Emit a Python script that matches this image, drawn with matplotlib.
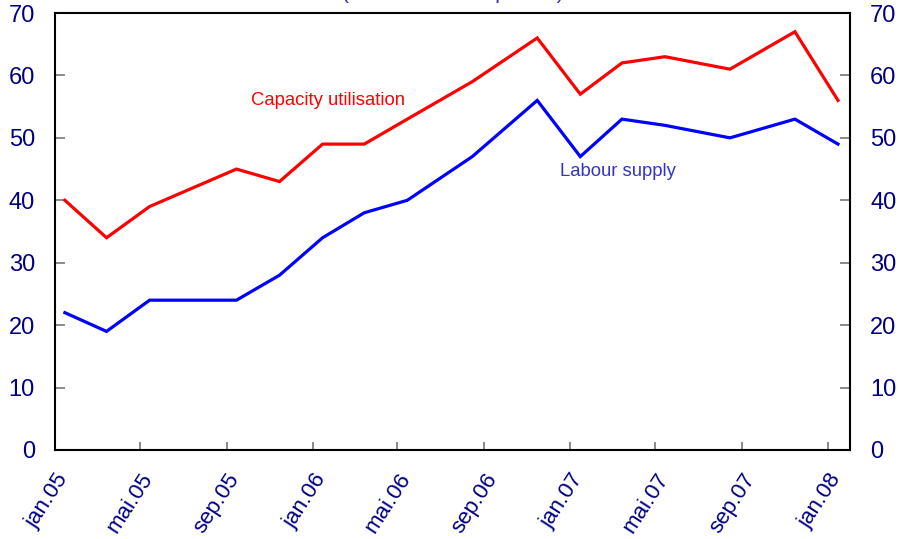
import matplotlib

matplotlib.use('Agg')
import matplotlib.pyplot as plt
import pandas as pd

plt.rcParams['font.family'] = ['Liberation Sans', 'DejaVu Sans']

# survey rounds (mid-month)
dates = ["2005-01-15", "2005-03-15", "2005-05-15", "2005-09-15", "2005-11-15",
         "2006-01-15", "2006-03-15", "2006-05-15", "2006-08-15", "2006-11-15",
         "2007-01-15", "2007-03-15", "2007-05-15", "2007-08-15", "2007-11-15",
         "2008-01-15"]
capacity = [40, 34, 39, 45, 43, 49, 49, 53, 59, 66, 57, 62, 63, 61, 67, 56]
labour = [22, 19, 24, 24, 28, 34, 38, 40, 47, 56, 47, 53, 52, 50, 53, 49]

tick_dates = ["2005-01-01", "2005-05-01", "2005-09-01", "2006-01-01", "2006-05-01",
              "2006-09-01", "2007-01-01", "2007-05-01", "2007-09-01", "2008-01-01"]
tick_labels = ["jan.05", "mai.05", "sep.05", "jan.06", "mai.06",
               "sep.06", "jan.07", "mai.07", "sep.07", "jan.08"]

x = pd.to_datetime(dates)
navy = '#000080'

fig = plt.figure(figsize=(9.01, 5.39), dpi=100)
ax = fig.add_axes([55 / 901, 1 - 450 / 539, 795 / 901, 437 / 539])

ax.plot(x, capacity, color='#ff0000', linewidth=2.3, solid_joinstyle='miter')
ax.plot(x, labour, color='#0000ff', linewidth=2.3, solid_joinstyle='miter')

ax.set_xlim(pd.Timestamp("2005-01-01"), pd.Timestamp("2008-02-01"))
ax.set_ylim(0, 70)
ax.set_yticks(range(0, 71, 10))
ax.set_xticks(pd.to_datetime(tick_dates))
ax.set_xticklabels(tick_labels, rotation=57, ha='right', va='top',
                   rotation_mode='anchor')

ax.tick_params(axis='y', direction='in', length=7, width=1.2, color='#777777',
               labelsize=17, labelcolor=navy, left=True, right=True,
               labelleft=True, labelright=True, pad=14.5)
ax.tick_params(axis='x', direction='in', length=6, width=1.2, color='#777777',
               labelsize=16, labelcolor=navy, pad=14)
for s in ax.spines.values():
    s.set_linewidth(1.5)
    s.set_color('black')

ax.text(pd.Timestamp("2006-01-22"), 56, "Capacity utilisation", color='#ff0000',
        fontsize=13.3, ha='center', va='center')
ax.text(pd.Timestamp("2007-03-10"), 44.6, "Labour supply", color='#3333cc',
        fontsize=13.3, ha='center', va='center')

# subtitle sits mostly above the top edge, as in the source image
fig.text(453 / 901, 1 + 1 / 539, "(Per cent of companies)", color='#333399',
         fontsize=15, ha='center', va='baseline')

plt.savefig('out.png', dpi=100)
plt.close(fig)
